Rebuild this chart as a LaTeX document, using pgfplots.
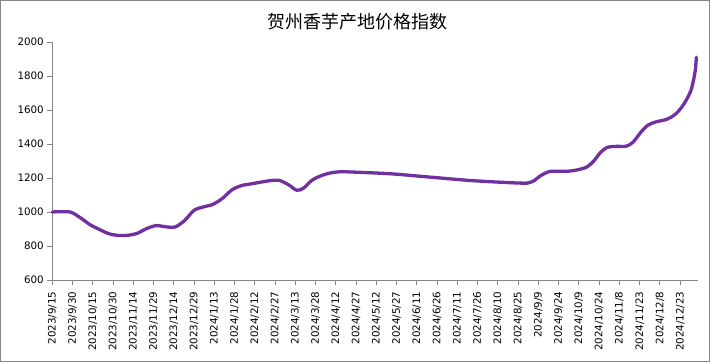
\documentclass[border=0pt]{standalone}
\usepackage{pgfplots}
\pgfplotsset{compat=1.18}
\usepackage{fontspec}
\setmainfont{DejaVu Sans}
\newfontfamily\cjk{Noto Sans CJK SC}
\definecolor{linepurple}{HTML}{7030A0}
\definecolor{axgray}{HTML}{868686}
\begin{document}
\begin{tikzpicture}[x=1pt,y=1pt]
\fill[white] (0,0) rectangle (714,363);
\draw[axgray, line width=1pt] (0.5,1.5) rectangle (709.5,362.5);
\node[font=\cjk\fontsize{18}{20}\selectfont, text=black] at (357,341) {贺州香芋产地价格指数};
\begin{axis}[
  at={(52.3pt,83pt)}, anchor=south west,
  scale only axis, width=645.4pt, height=238pt,
  xmin=0, xmax=478, ymin=600, ymax=2000,
  axis x line*=bottom, axis y line*=left,
  axis line style={axgray, line width=0.9pt},
  tick style={axgray, line width=0.9pt},
  tick align=outside, major tick length=5pt,
  ytick={600,800,...,2000},
  xtick={0,15,...,465},
  xticklabels={2023/9/15,2023/9/30,2023/10/15,2023/10/30,2023/11/14,2023/11/29,2023/12/14,2023/12/29,2024/1/13,2024/1/28,2024/2/12,2024/2/27,2024/3/13,2024/3/28,2024/4/12,2024/4/27,2024/5/12,2024/5/27,2024/6/11,2024/6/26,2024/7/11,2024/7/26,2024/8/10,2024/8/25,2024/9/9,2024/9/24,2024/10/9,2024/10/24,2024/11/8,2024/11/23,2024/12/8,2024/12/23},
  /pgf/number format/assume math mode=true,
  /pgf/number format/1000 sep={},
  yticklabel style={font=\fontsize{10.3}{12}\selectfont, text=black},
  xticklabel style={font=\fontsize{10.3}{12}\selectfont, text=black, rotate=90, anchor=east},
  xticklabel shift={3pt},
  clip=false,
]
\addplot[linepurple, line width=3.3pt, smooth, tension=0.5, line cap=round] coordinates {
(0,1000) (7,1002) (14,998) (21,965) (28,925) (35,897) (42,872) (49,862) (56,863) (63,875)
(70,903) (77,920) (84,913) (91,912) (98,950) (105,1010) (112,1030) (119,1045) (126,1080)
(133,1130) (140,1155) (147,1165) (154,1175) (161,1184) (168,1186) (175,1160) (181,1128)
(186,1140) (192,1185) (198,1210) (205,1228) (212,1236) (219,1236) (250,1225) (280,1205)
(310,1185) (340,1172) (352,1170) (356,1180) (362,1215) (368,1238) (375,1240) (382,1240)
(389,1248) (396,1265) (401,1300) (406,1350) (411,1380) (418,1386) (425,1387) (430,1410)
(436,1470) (441,1510) (447,1530) (455,1545) (461,1572) (466,1615) (470,1665) (473,1715) (475,1780) (476.3,1840) (477,1910)
};
\end{axis}
\end{tikzpicture}
\end{document}
